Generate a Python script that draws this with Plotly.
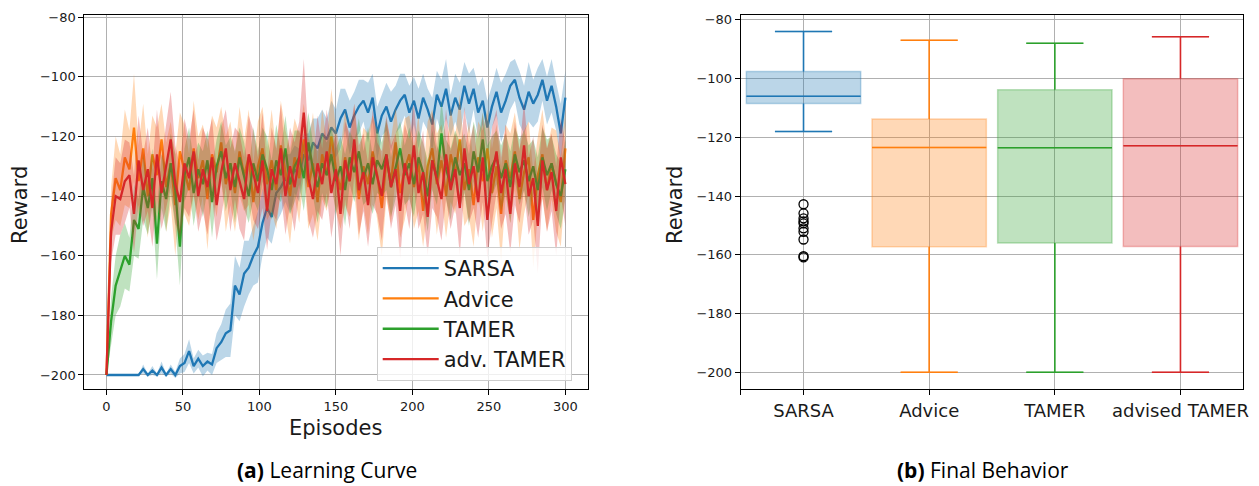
import plotly.graph_objects as go

# ---------------- data ----------------
EPISODES = list(range(0, 301, 3))

SARSA_MEAN = [
    -200, -200, -200, -200, -200, -200, -200, -200, -198, -200,
    -198.5, -200, -197.5, -200, -198, -200, -197, -196, -192, -197,
    -194.5, -197, -195.5, -196.5, -191, -189, -186, -185, -170, -173,
    -166, -164, -160, -157, -149, -144, -147, -139, -137, -134,
    -136, -131, -133, -126, -128, -122, -124, -119, -121, -117,
    -119, -114, -111, -117, -113, -110, -108, -112, -107, -119,
    -113, -110, -115, -111, -108, -106, -112, -108, -114, -107,
    -111, -116, -106, -110, -104, -113, -107, -111, -103, -109,
    -104, -112, -108, -117, -110, -105, -112, -108, -103, -101,
    -107, -111, -105, -109, -106, -101, -108, -103, -110, -119,
    -107]
SARSA_SPREAD = [
    0, 0, 0, 0, 0, 0, 0, 0, 1.5, 0.5,
    1.5, 0.5, 2, 0.5, 1.5, 1, 2.5, 3, 4, 2.5,
    3, 3.5, 3, 3.5, 5, 6, 8, 9, 10, 9,
    11, 9, 10, 12, 11, 10, 9, 10, 9, 8,
    10, 8, 9, 7, 9, 8, 10, 8, 7, 9,
    8, 10, 7, 9, 8, 9, 7, 10, 8, 9,
    7, 8, 10, 8, 9, 7, 9, 8, 10, 8,
    7, 9, 8, 9, 10, 7, 8, 9, 8, 10,
    7, 9, 8, 9, 7, 8, 10, 9, 8, 7,
    9, 8, 10, 8, 9, 7, 8, 9, 8, 10,
    9]

ADVICE_MEAN = [
    -200, -146, -134, -138, -127, -131, -117, -135, -124, -140,
    -126, -133, -121, -137, -129, -143, -125, -131, -138, -124,
    -134, -128, -141, -126, -132, -122, -136, -129, -139, -125,
    -133, -127, -142, -130, -124, -136, -128, -138, -123, -132,
    -140, -127, -134, -121, -137, -129, -142, -126, -133, -120,
    -131, -138, -127, -135, -124, -141, -130, -136, -125, -133,
    -144, -128, -135, -122, -139, -131, -126, -137, -129, -145,
    -130, -124, -136, -128, -140, -126, -133, -121, -138, -131,
    -143, -127, -135, -124, -139, -130, -146, -128, -134, -125,
    -141, -132, -127, -148, -133, -126, -138, -129, -135, -142,
    -124]
ADVICE_SPREAD = [
    0, 9, 14, 12, 16, 13, 18, 12, 15, 14,
    13, 16, 12, 15, 14, 17, 13, 15, 12, 16,
    14, 12, 17, 13, 15, 12, 16, 14, 13, 15,
    12, 16, 13, 15, 14, 12, 17, 13, 15, 14,
    16, 13, 15, 12, 14, 17, 13, 15, 12, 16,
    14, 13, 16, 12, 15, 14, 13, 17, 12, 15,
    16, 13, 14, 12, 15, 17, 13, 14, 16, 12,
    15, 13, 17, 12, 14, 16, 13, 15, 12, 16,
    14, 12, 17, 13, 15, 14, 16, 12, 15, 13,
    17, 14, 12, 16, 13, 15, 14, 12, 17, 15,
    13]

TAMER_MEAN = [
    -200, -182, -170, -165, -160, -163, -148, -151, -137, -144,
    -134, -156, -135, -141, -129, -138, -157, -133, -127, -139,
    -131, -136, -128, -142, -130, -125, -134, -129, -137, -127,
    -133, -140, -129, -135, -126, -131, -138, -128, -133, -124,
    -136, -130, -127, -134, -122, -131, -137, -129, -133, -126,
    -135, -130, -138, -127, -132, -125, -134, -129, -136, -128,
    -131, -126, -137, -130, -124, -133, -129, -136, -127, -132,
    -140, -128, -134, -119, -131, -136, -127, -133, -129, -138,
    -125, -132, -121, -135, -130, -127, -134, -129, -137, -126,
    -132, -128, -135, -130, -138, -127, -133, -129, -136, -140,
    -131]
TAMER_SPREAD = [
    0, 8, 10, 12, 11, 9, 12, 10, 11, 9,
    10, 12, 9, 11, 10, 12, 13, 9, 10, 11,
    9, 11, 10, 12, 9, 10, 11, 9, 12, 10,
    11, 9, 12, 10, 9, 11, 10, 12, 9, 11,
    10, 12, 9, 11, 10, 9, 12, 10, 11, 9,
    11, 10, 12, 9, 10, 11, 9, 12, 10, 11,
    9, 12, 10, 11, 9, 10, 12, 11, 9, 10,
    12, 10, 9, 11, 10, 12, 9, 11, 10, 12,
    10, 11, 9, 12, 10, 9, 11, 10, 12, 9,
    11, 10, 12, 9, 11, 10, 12, 9, 10, 11,
    10]

ADVTAMER_MEAN = [
    -200, -152, -140, -141, -135, -133, -146, -128, -138, -131,
    -144, -126, -139, -130, -121, -136, -142, -129, -134, -125,
    -140, -131, -137, -127, -143, -132, -124, -138, -129, -135,
    -141, -126, -133, -139, -128, -145, -131, -136, -124, -140,
    -130, -137, -127, -112, -134, -141, -129, -136, -125, -139,
    -131, -146, -128, -135, -121, -138, -132, -143, -127, -134,
    -140, -126, -137, -131, -145, -129, -136, -123, -139, -132,
    -147, -128, -135, -141, -126, -138, -131, -144, -124, -136,
    -130, -142, -127, -148, -133, -125, -139, -131, -146, -129,
    -137, -123, -140, -134, -150, -128, -138, -132, -145, -127,
    -136]
ADVTAMER_SPREAD = [
    0, 10, 13, 12, 14, 11, 13, 15, 12, 14,
    13, 15, 12, 14, 16, 13, 12, 15, 13, 14,
    12, 14, 16, 13, 12, 15, 13, 14, 12, 16,
    14, 13, 15, 12, 16, 13, 14, 12, 15, 13,
    13, 15, 12, 18, 14, 13, 16, 12, 14, 15,
    12, 14, 13, 16, 12, 15, 13, 14, 16, 12,
    15, 13, 14, 12, 16, 13, 15, 14, 12, 14,
    13, 16, 12, 14, 15, 13, 12, 16, 14, 13,
    14, 12, 15, 13, 16, 14, 12, 15, 13, 14,
    12, 15, 13, 14, 16, 12, 14, 13, 15, 13,
    14]

CURVE_NAMES = ["SARSA", "Advice", "TAMER", "adv. TAMER"]

# Final behaviour box statistics
BOX_CATEGORIES = ["SARSA", "Advice", "TAMER", "advised TAMER"]
BOX_LOWER = [-118.0, -200.0, -200.0, -200.0]
BOX_Q1 = [-108.5, -157.3, -156.0, -157.2]
BOX_MEDIAN = [-106.0, -123.5, -123.6, -122.9]
BOX_Q3 = [-97.6, -113.8, -103.8, -100.1]
BOX_UPPER = [-84.0, -87.0, -88.0, -85.8]
SARSA_OUTLIERS = [-142.8, -145.9, -147.6, -148.6, -149.3, -151.0, -152.2, -154.8, -160.5, -160.9]

Y_TICKS = [-200, -180, -160, -140, -120, -100, -80]
Y_TICK_TEXT = ["\u2212200", "\u2212180", "\u2212160", "\u2212140", "\u2212120", "\u2212100", "\u221280"]
X_TICKS = [0, 50, 100, 150, 200, 250, 300]

# ---------------- style ----------------
COLORS = ["#1f77b4", "#ff7f0e", "#2ca02c", "#d62728"]
RGB = [(31, 119, 180), (255, 127, 14), (44, 160, 44), (214, 39, 40)]
FONT = "DejaVu Sans"
TXT = "#1a1a1a"
GRID = "#b0b0b0"

fig = go.Figure()

means = [SARSA_MEAN, ADVICE_MEAN, TAMER_MEAN, ADVTAMER_MEAN]
spreads = [SARSA_SPREAD, ADVICE_SPREAD, TAMER_SPREAD, ADVTAMER_SPREAD]

for k in range(4):
    m, s = means[k], spreads[k]
    r, g, b = RGB[k]
    upper = [a + d for a, d in zip(m, s)]
    lower = [a - d for a, d in zip(m, s)]
    fig.add_trace(go.Scatter(
        x=EPISODES + EPISODES[::-1], y=upper + lower[::-1],
        fill="toself", fillcolor=f"rgba({r},{g},{b},0.3)",
        line=dict(width=0), mode="lines", hoverinfo="skip",
        showlegend=False, xaxis="x", yaxis="y"))
    fig.add_trace(go.Scatter(
        x=EPISODES, y=m, mode="lines", name=CURVE_NAMES[k],
        legendgroup=f"g{k}",
        line=dict(color=COLORS[k], width=2.3),
        xaxis="x", yaxis="y"))

# box plots
BOX_W = 0.91
for k in range(4):
    r, g, b = RGB[k]
    p = k + 1
    fig.add_trace(go.Box(
        x=[p], q1=[BOX_Q1[k]], median=[BOX_MEDIAN[k]], q3=[BOX_Q3[k]],
        lowerfence=[BOX_LOWER[k]], upperfence=[BOX_UPPER[k]],
        width=BOX_W, whiskerwidth=0.5,
        fillcolor=f"rgba({r},{g},{b},0.3)",
        line=dict(color=f"rgba({r},{g},{b},0.3)", width=1.5),
        boxpoints=False, showlegend=False, hoverinfo="skip",
        xaxis="x2", yaxis="y2"))
    hw = BOX_W / 2
    cw = BOX_W / 4
    xs = [p - hw, p + hw, None,
          p, p, None, p - cw, p + cw, None,
          p, p, None, p - cw, p + cw]
    ys = [BOX_MEDIAN[k], BOX_MEDIAN[k], None,
          BOX_Q3[k], BOX_UPPER[k], None, BOX_UPPER[k], BOX_UPPER[k], None,
          BOX_Q1[k], BOX_LOWER[k], None, BOX_LOWER[k], BOX_LOWER[k]]
    fig.add_trace(go.Scatter(
        x=xs, y=ys, mode="lines", line=dict(color=COLORS[k], width=1.5),
        showlegend=False, hoverinfo="skip", xaxis="x2", yaxis="y2"))

fig.add_trace(go.Scatter(
    x=[1] * len(SARSA_OUTLIERS), y=SARSA_OUTLIERS, mode="markers",
    marker=dict(symbol="circle-open", size=9, color="black", line=dict(width=1.3, color="black")),
    showlegend=False, hoverinfo="skip", xaxis="x2", yaxis="y2"))

axis_common = dict(showline=True, mirror=True, linecolor="black", linewidth=1,
                   ticks="outside", ticklen=5, tickcolor="black", tickwidth=1,
                   showgrid=True, gridcolor=GRID, gridwidth=1, zeroline=False,
                   automargin=False,
                   tickfont=dict(family=FONT, size=13, color=TXT))

W, H = 1259, 486
y_dom = [(H - 389.3) / H, (H - 14.5) / H]

fig.update_layout(
    width=W, height=H, autosize=False,
    margin=dict(l=0, r=0, t=0, b=0, pad=0),
    paper_bgcolor="white", plot_bgcolor="white",
    hovermode=False,
    xaxis=dict(domain=[84.3 / W, 588.3 / W], range=[-14.5, 315], anchor="y",
               tickvals=X_TICKS, ticktext=[str(v) for v in X_TICKS], **axis_common),
    yaxis=dict(domain=y_dom, range=[-204.8, -79.1], anchor="x",
               tickvals=Y_TICKS, ticktext=Y_TICK_TEXT, **axis_common),
    xaxis2=dict(domain=[740.7 / W, 1243.3 / W], range=[0.5, 4.5], anchor="y2",
                tickvals=[0.5, 1, 2, 3, 4], ticktext=[""] + BOX_CATEGORIES,
                **{**axis_common, "tickfont": dict(family=FONT, size=18, color=TXT)}),
    yaxis2=dict(domain=y_dom, range=[-205.8, -78.2], anchor="x2",
                tickvals=Y_TICKS, ticktext=Y_TICK_TEXT, **axis_common),
    showlegend=True,
    legend=dict(x=376.7 / W, y=(H - 247) / H, xanchor="left", yanchor="top",
                bgcolor="rgba(255,255,255,0.8)", bordercolor="#cccccc", borderwidth=1,
                font=dict(family=FONT, size=21, color=TXT),
                traceorder="grouped", tracegroupgap=0, itemwidth=56),
)

ann = [
    dict(text="Reward", x=20 / W, y=(H - 205) / H, textangle=-90,
         font=dict(family=FONT, size=21, color=TXT)),
    dict(text="Reward", x=675 / W, y=(H - 205) / H, textangle=-90,
         font=dict(family=FONT, size=21, color=TXT)),
    dict(text="Episodes", x=336 / W, y=(H - 428) / H,
         font=dict(family=FONT, size=21, color=TXT)),
    dict(text="<b>(a)</b> Learning Curve", x=327 / W, y=(H - 470) / H,
         font=dict(family="Open Sans", size=21, color="black")),
    dict(text="<b>(b)</b> Final Behavior", x=983 / W, y=(H - 470) / H,
         font=dict(family="Open Sans", size=21, color="black")),
]
for a in ann:
    fig.add_annotation(xref="paper", yref="paper", showarrow=False,
                       xanchor="center", yanchor="middle", **a)

fig.write_html("out.html", config={"displayModeBar": False, "staticPlot": True},
               post_script="document.body.style.margin='0';document.body.style.padding='0';")
